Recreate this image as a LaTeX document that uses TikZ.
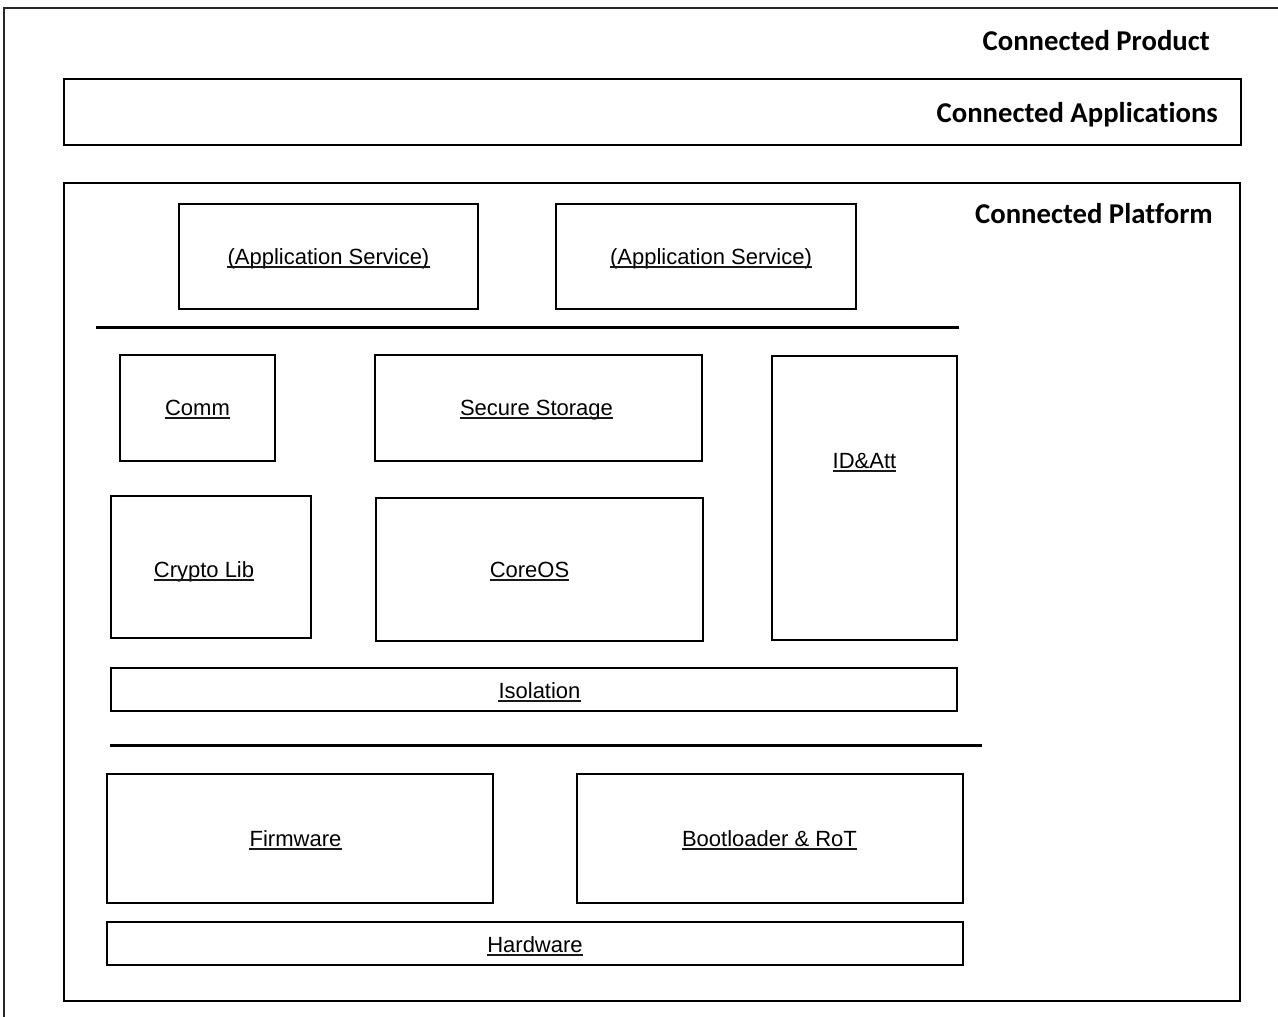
\documentclass[tikz,border=0pt]{standalone}
\usepackage{fontspec}
\setmainfont{Liberation Sans}
\newfontfamily\headfont{Carlito}[Ligatures=NoCommon]

% \mkblock{name}{left}{top}{right}{bottom}: an empty framed block
\newcommand{\mkblock}[5]{%
  \node[block, minimum width=#4pt-#2pt, minimum height=#5pt-#3pt]
    (#1) at ({(#2+#4)/2},{(#3+#5)/2}) {};}
% \mklabel{name}{x}{baseline}{text}: underlined block caption
\newcommand{\mklabel}[4]{%
  \node[lbl] (#1) at (#2,#3) {#4};
  \draw[underline] ([yshift=-3.2pt]#1.base west) -- ([yshift=-3.2pt]#1.base east);}

\begin{document}
\begin{tikzpicture}[x=1pt,y=-1pt,
  frame/.style={draw=black!85, line width=1.6pt},
  block/.style={draw=black, line width=1.8pt, inner sep=0pt},
  divider/.style={draw=black, line width=3pt},
  underline/.style={draw=black!90, line width=1.5pt},
  lbl/.style={anchor=base, inner sep=0pt, font=\fontsize{22}{26}\selectfont},
  heading/.style={anchor=base east, inner sep=0pt,
                  font=\headfont\bfseries\fontsize{28.7}{32}\selectfont}]
\useasboundingbox[fill=white] (0,0) rectangle (1278,1017);

% product frame (continues past the page)
\draw[frame] (4,1030) |- (1290,8);
\node[heading] (product) at (1210,50) {Connected Product};

% applications layer
\mkblock{apps}{64}{79}{1241}{145}
\node[heading] (appstitle) at (1218,122) {Connected Applications};

% platform layer
\mkblock{platform}{64}{183}{1240}{1001}
\node[heading] (platformtitle) at (1213,223) {Connected Platform};

% application services
\mkblock{svcA}{179}{204}{478}{309}
\mklabel{svcAtext}{328.5}{264}{(Application Service)}
\mkblock{svcB}{556}{204}{856}{309}
\mklabel{svcBtext}{711}{264}{(Application Service)}

\coordinate (divAl) at (96,327);
\coordinate (divAr) at (959,327);
\draw[divider] (divAl) -- (divAr);

% platform services
\mkblock{comm}{120}{355}{275}{461}
\mklabel{commtext}{197.5}{415}{Comm}
\mkblock{storage}{375}{355}{702}{461}
\mklabel{storagetext}{536.5}{415}{Secure Storage}
\mkblock{idatt}{772}{356}{957}{640}
\mklabel{idatttext}{864.5}{468}{ID\&Att}
\mkblock{crypto}{111}{496}{311}{638}
\mklabel{cryptotext}{204}{577}{Crypto Lib}
\mkblock{coreos}{376}{498}{703}{641}
\mklabel{coreostext}{529.5}{577}{CoreOS}
\mkblock{isolation}{111}{668}{957}{711}
\mklabel{isolationtext}{539.5}{698}{Isolation}

\coordinate (divBl) at (110,745);
\coordinate (divBr) at (982,745);
\draw[divider] (divBl) -- (divBr);

% hardware base
\mkblock{firmware}{107}{774}{493}{903}
\mklabel{firmwaretext}{295.5}{846}{Firmware}
\mkblock{boot}{577}{774}{963}{903}
\mklabel{boottext}{769.5}{846}{Bootloader \& RoT}
\mkblock{hardware}{107}{922}{963}{965}
\mklabel{hardwaretext}{535}{952}{Hardware}
\end{tikzpicture}
\end{document}
